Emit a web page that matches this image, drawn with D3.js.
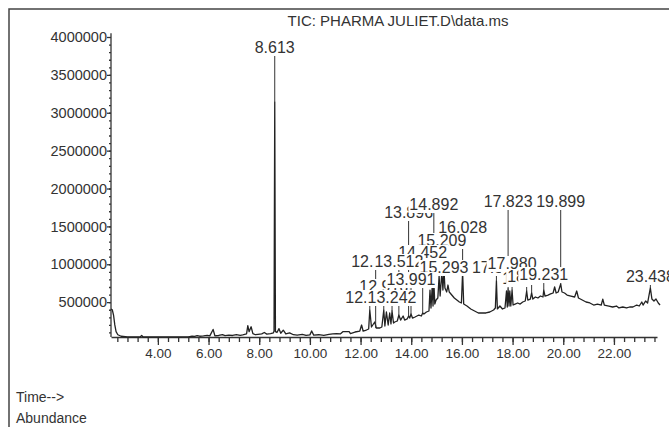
<!DOCTYPE html>
<html>
<head>
<meta charset="utf-8">
<script src="https://cdn.jsdelivr.net/npm/d3@7"></script>
<style>
html, body { margin: 0; padding: 0; background: #fff; }
svg { display: block; font-family: "Liberation Sans", Arial, sans-serif; }
</style>
</head>
<body>
<div id="chart"></div>
<script>
// retention time (min) and abundance
const traceTime = [
  2.15, 2.20, 2.25, 2.30, 2.35, 2.42, 2.55, 2.80, 3.00, 3.30, 3.36, 3.42, 3.80, 4.30, 4.80,
  5.20, 5.35, 5.45, 5.55, 5.65, 5.80, 5.95, 6.05, 6.18, 6.25, 6.40, 6.55, 6.65, 6.80, 6.95,
  7.10, 7.25, 7.35, 7.50, 7.55, 7.60, 7.68, 7.75, 7.85, 7.95, 8.10, 8.20, 8.30, 8.45, 8.56,
  8.585, 8.613, 8.64, 8.70, 8.78, 8.85, 8.95, 9.05, 9.20, 9.35, 9.50, 9.70, 9.85, 10.00, 10.07,
  10.15, 10.35, 10.55, 10.75, 10.90, 11.05, 11.20, 11.30, 11.55, 11.60, 11.75,
  11.78, 11.97, 12.04, 12.10, 12.23, 12.32, 12.364, 12.43, 12.56, 12.62, 12.76, 12.84, 12.916, 12.96,
  13.02, 13.09, 13.15, 13.20, 13.242, 13.30, 13.35, 13.45, 13.512, 13.58, 13.68, 13.74, 13.84, 13.896,
  13.94, 13.991, 14.05, 14.15, 14.30, 14.40, 14.452, 14.50, 14.60, 14.70, 14.74, 14.78, 14.83, 14.86,
  14.892, 14.93, 14.98, 15.05, 15.10, 15.14, 15.209, 15.25, 15.293, 15.33, 15.40, 15.45, 15.50, 15.60,
  15.70, 15.80, 15.90, 15.98, 16.028, 16.07, 16.20, 16.35, 16.50, 16.65, 16.80, 16.95,
  17.10, 17.25, 17.32, 17.362, 17.40, 17.50, 17.60, 17.70, 17.76, 17.79, 17.823, 17.86, 17.89, 17.93,
  17.98, 18.02, 18.10, 18.20, 18.30, 18.40, 18.50, 18.556, 18.60, 18.70, 18.752, 18.80, 18.90, 19.00,
  19.10, 19.20, 19.231, 19.28, 19.40, 19.50, 19.60, 19.66, 19.72, 19.80, 19.899, 19.95, 20.05, 20.15,
  20.30, 20.45, 20.53, 20.60, 20.75, 20.90, 21.05, 21.20, 21.35, 21.50, 21.56, 21.62, 21.80, 21.95,
  22.10, 22.20, 22.35, 22.50, 22.62, 22.75, 22.90, 23.00, 23.10, 23.15, 23.25, 23.33, 23.438, 23.50,
  23.58, 23.66, 23.75, 23.82
]
const traceAbundance = [
  410000, 400000, 330000, 200000, 110000, 70000, 50000, 42000, 40000, 41000, 60000, 40000, 40000, 41000, 40000,
  42000, 52000, 48000, 58000, 50000, 54000, 62000, 55000, 140000, 56000, 60000, 72000, 58000, 64000, 60000,
  70000, 62000, 68000, 80000, 190000, 110000, 175000, 85000, 70000, 75000, 82000, 100000, 78000, 85000, 95000,
  120000, 3140000, 110000, 100000, 150000, 90000, 130000, 80000, 95000, 70000, 65000, 75000, 62000, 68000, 120000,
  65000, 70000, 62000, 75000, 80000, 85000, 80000, 110000, 110000, 85000, 100000,
  106000, 119000, 198000, 119000, 132000, 146000, 396000, 172000, 238000, 159000, 159000, 172000, 396000, 185000,
  370000, 198000, 357000, 212000, 383000, 225000, 238000, 251000, 330000, 264000, 317000, 264000, 278000, 317000,
  290000, 344000, 290000, 304000, 330000, 317000, 357000, 343000, 370000, 383000, 660000, 423000, 726000, 449000,
  779000, 475000, 528000, 555000, 845000, 581000, 898000, 660000, 924000, 687000, 634000, 726000, 634000, 594000,
  555000, 528000, 502000, 489000, 898000, 475000, 449000, 410000, 383000, 357000, 357000, 357000,
  370000, 396000, 423000, 779000, 410000, 449000, 410000, 423000, 647000, 436000, 674000, 449000, 647000, 449000,
  660000, 462000, 475000, 489000, 475000, 502000, 515000, 647000, 528000, 541000, 621000, 541000, 568000, 555000,
  581000, 568000, 660000, 581000, 594000, 608000, 621000, 700000, 621000, 634000, 740000, 634000, 621000, 594000,
  581000, 568000, 647000, 555000, 528000, 502000, 489000, 462000, 475000, 462000, 541000, 462000, 449000, 436000,
  449000, 423000, 436000, 423000, 436000, 436000, 462000, 449000, 502000, 462000, 515000, 489000, 687000, 541000,
  515000, 541000, 489000, 462000
]

// peak labels, in the order they are printed (later ones cover earlier ones)
const peakLabels = [
  "17.823", "19.899", "8.613", "13.896", "14.892", "16.028", "15.209", "14.452", "12.596", "13.512",
  "15.293", "17.362", "17.980", "18.556", "18.752", "19.231", "12.916", "13.991", "12.364", "13.242", "23.438"
]

const xTickLabels = ["4.00", "6.00", "8.00", "10.00", "12.00", "14.00", "16.00", "18.00", "20.00", "22.00"]
const yTickValues = [500000, 1000000, 1500000, 2000000, 2500000, 3000000, 3500000, 4000000]
const chartTitle = "TIC: PHARMA JULIET.D\\data.ms"

// layout: abundance level where each peak label sits (same order as peakLabels)
const labelLevel = [
  1756000, 1756000, 3790000, 1611000, 1716000, 1413000, 1241000, 1083000, 964000, 964000,
  885000, 885000, 938000, 740000, 766000, 792000, 634000, 726000, 489000, 489000, 766000
]

const width = 669, height = 427
const ink = "#333"

const svg = d3.select("#chart").append("svg")
    .attr("width", width)
    .attr("height", height)

// scanned-page frame
svg.append("path")
    .attr("d", `M 9 ${height} V 9 H ${width}`)
    .attr("fill", "none")
    .attr("stroke", "#444")
    .attr("stroke-width", 1.5)

let x = d3.scaleLinear().domain([2.15, 23.7]).range([111, 657])
let y = d3.scaleLinear().domain([40000, 4000000]).range([337, 37])

// x axis: minor every 0.4 min, major every 2 min
const xMinor = d3.range(6, 60).map(i => +(i * 0.4).toFixed(1))
svg.append("g")
    .attr("transform", `translate(0, ${y.range()[0]})`)
    .call(d3.axisBottom(x).tickValues(xMinor).tickSize(5).tickSizeOuter(0).tickFormat(""))
    .call(g => g.selectAll("line, path").attr("stroke", ink).attr("stroke-width", 1.3))

svg.append("g")
    .attr("transform", `translate(0, ${y.range()[0]})`)
    .call(d3.axisBottom(x)
        .tickValues(xTickLabels.map(Number))
        .tickSize(8)
        .tickPadding(3)
        .tickFormat((d, i) => xTickLabels[i]))
    .call(g => g.select(".domain").remove())
    .call(g => g.selectAll("line").attr("stroke", ink).attr("stroke-width", 1.3))
    .call(g => g.selectAll("text")
        .attr("fill", ink)
        .attr("font-family", '"Liberation Sans", Arial, sans-serif')
        .attr("font-size", "13.5px"))

// y axis: minor every 100000, line runs a little above the top tick
const yMinor = d3.range(1, 40).map(i => i * 100000)
svg.append("g")
    .attr("transform", `translate(${x.range()[0]}, 0)`)
    .call(d3.axisLeft(y).tickValues(yMinor).tickSize(2).tickSizeOuter(0).tickFormat(""))
    .call(g => g.selectAll("line, path").attr("stroke", ink).attr("stroke-width", 1.3))
    .call(g => g.select(".domain").attr("d", `M0,${y.range()[0]}V${y(4050000)}`))

svg.append("g")
    .attr("transform", `translate(${x.range()[0]}, 0)`)
    .call(d3.axisLeft(y)
        .tickValues(yTickValues)
        .tickSize(4)
        .tickPadding(0)
        .tickFormat(d => String(d)))
    .call(g => g.select(".domain").remove())
    .call(g => g.selectAll("line").attr("stroke", ink).attr("stroke-width", 1.3))
    .call(g => g.selectAll("text")
        .attr("fill", ink)
        .attr("font-family", '"Liberation Sans", Arial, sans-serif')
        .attr("font-size", "14.5px"))

// chromatogram trace
const trace = traceTime.map((t, i) => ({ t, v: traceAbundance[i] }))
svg.append("path")
    .datum(trace)
    .attr("fill", "none")
    .attr("stroke", "#222")
    .attr("stroke-width", 1.3)
    .attr("stroke-linejoin", "round")
    .attr("d", d3.line()
        .x(d => x(d.t))
        .y(d => y(d.v)))

const apexAt = t => trace.reduce((best, d) => Math.abs(d.t - t) < Math.abs(best.t - t) ? d : best).v

// peak labels with leader lines and white knock-out boxes
const labels = svg.append("g")
    .attr("font-family", '"Liberation Sans Narrow", "Liberation Sans", sans-serif')
    .attr("font-size", "16px")

peakLabels.forEach((txt, i) => {
    const t = +txt
    const px = x(t)
    const base = y(labelLevel[i])
    const apex = y(apexAt(t))
    if (apex > base + 3) {
        labels.append("line")
            .attr("x1", px).attr("x2", px)
            .attr("y1", base + 3).attr("y2", apex)
            .attr("stroke", ink)
            .attr("stroke-width", 1)
    }
    const box = labels.append("rect").attr("fill", "#fff")
    const text = labels.append("text")
        .attr("x", px)
        .attr("y", base)
        .attr("text-anchor", "middle")
        .attr("fill", ink)
        .text(txt)
    const w = text.node().getComputedTextLength()
    box.attr("x", px - w / 2 - 1)
        .attr("y", base - 13)
        .attr("width", w + 2)
        .attr("height", 16)
})

svg.append("text")
    .attr("x", 398)
    .attr("y", 26)
    .attr("text-anchor", "middle")
    .attr("fill", ink)
    .attr("font-size", "15px")
    .text(chartTitle)

svg.append("text")
    .attr("x", 16)
    .attr("y", 402)
    .attr("fill", ink)
    .attr("font-size", "14px")
    .text("Time-->")

svg.append("text")
    .attr("x", 16)
    .attr("y", 423)
    .attr("fill", ink)
    .attr("font-size", "14px")
    .text("Abundance")
</script>
</body>
</html>
